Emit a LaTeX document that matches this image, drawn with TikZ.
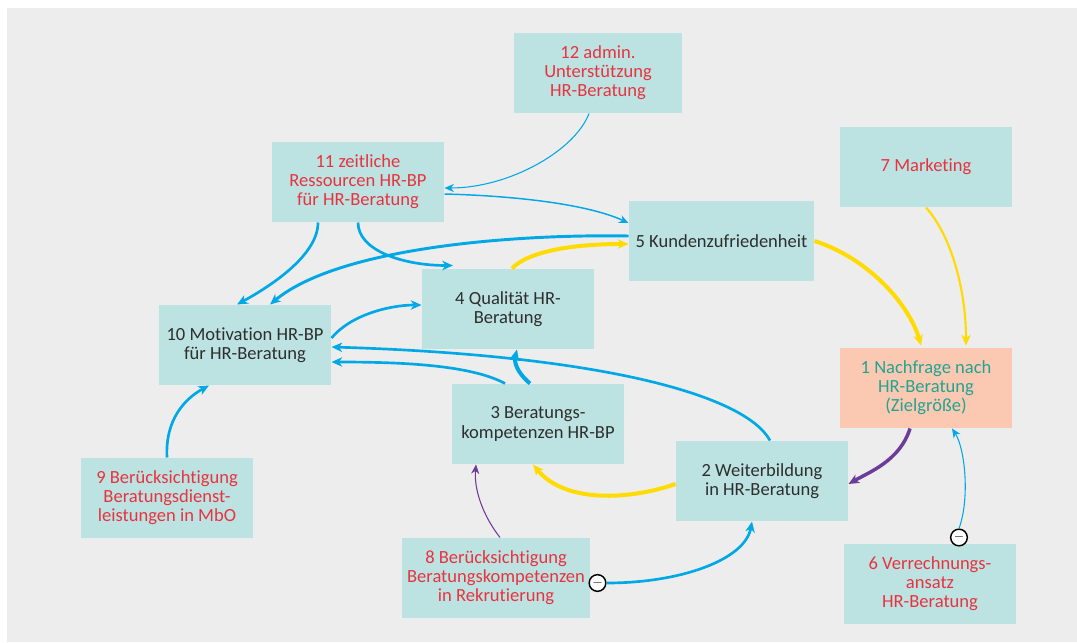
\documentclass[tikz,border=0pt]{standalone}
\usepackage{fontspec}
\setmainfont{Carlito}[Ligatures=NoCommon]
\usepackage{tikz}
\usetikzlibrary{arrows.meta,calc}
\tikzset{every picture/.style={line width=0.75pt}}

\definecolor{bggrey}{HTML}{EDEDED}
\definecolor{boxfill}{HTML}{BCE3E2}
\definecolor{goalfill}{HTML}{FBC9B2}
\definecolor{levred}{HTML}{E8333F}
\definecolor{txtdark}{HTML}{2E2E2E}
\definecolor{goalteal}{HTML}{22A393}
\definecolor{linkblue}{HTML}{00A8E6}
\definecolor{linkyellow}{HTML}{FFDB00}
\definecolor{linkpurple}{HTML}{6B3C98}

\tikzset{
  factor/.style={fill=boxfill, minimum width=129pt, minimum height=60pt, inner sep=0pt,
    align=center, font=\fontsize{13.9}{14.3}\selectfont},
  driver/.style={factor, text=levred},
  effect/.style={factor, text=txtdark},
  goal/.style={factor, fill=goalfill, text=goalteal},
  minus/.style={circle, draw=black, fill=white, line width=1.1pt, minimum size=12.5pt, inner sep=0pt},
  tip/.style={-{Stealth[length=8pt,width=7pt,inset=2.4pt]}},
  thintip/.style={-{Stealth[length=7pt,width=6pt,inset=2.2pt]}},
  blue/.style={draw=linkblue, line width=2pt, tip},
  bluethin/.style={draw=linkblue, line width=0.8pt, thintip},
  yellow/.style={draw=linkyellow, line width=3pt, tip},
  purple/.style={draw=linkpurple, line width=2.6pt, tip},
}

\begin{document}
\begin{tikzpicture}[x=0.75pt,y=0.75pt,yscale=-1,xscale=1]
\useasboundingbox (0,0) rectangle (1077,642);
\fill[bggrey] (7,8) rectangle (1077,642);

% boxes
\node[driver, minimum width=126pt] (n12) at (598,73) {12 admin.\\Unterstützung\\HR-Beratung};
\node[driver] (n11) at (358,182) {11 zeitliche\\Ressourcen HR-BP\\für HR-Beratung};
\node[driver] (n7) at (926,167) {7 Marketing};
\node[effect, minimum width=138.75pt] (n5) at (721.5,241) {5 Kundenzufriedenheit};
\node[effect] (n4) at (508,309) {4 Qualität HR-\\Beratung};
\node[effect] (n10) at (245,345) {10 Motivation HR-BP\\für HR-Beratung};
\node[goal] (n1) at (926,388) {1 Nachfrage nach\\HR-Beratung\\(Zielgröße)};
\node[effect] (n3) at (538,424) {3 Beratungs-\\kompetenzen HR-BP};
\node[effect] (n2) at (762,481) {2 Weiterbildung\\in HR-Beratung};
\node[driver] (n9) at (167,498) {9 Berücksichtigung\\Beratungsdienst-\\leistungen in MbO};
\node[driver, minimum width=141pt] (n8) at (496,578) {8 Berücksichtigung\\Beratungskompetenzen\\in Rekrutierung};
\node[driver] (n6) at (930,584) {6 Verrechnungs-\\ansatz\\HR-Beratung};

% negative links
\node[minus] (m8) at ($(n8.east)+(7,5)$) {$-$};
\node[minus] (m6) at ($(n6.north)+(29,-6)$) {$-$};

% blue links
\draw[bluethin] ($(n12.south)+(-9,0)$) .. controls +(-14,37) and +(65,0) .. ($(n11.east)+(0,6)$);
\draw[bluethin, line width=1.1pt] ($(n11.east)+(0,12)$) .. controls +(76,2) and +(-39,-18) .. ($(n5.west)+(0,-18)$);
\draw[blue] ($(n11.south)+(-40,0)$) .. controls +(0,33) and +(33,-18) .. ($(n10.north)+(-8,0)$);
\draw[blue] (n11.south) .. controls +(0,28) and +(-50,0) .. ($(n4.north)+(-55,-3)$);
\draw[blue, line width=2.2pt] ($(n5.west)+(0,-5)$) .. controls +(-109,-2) and +(70,-58) .. ($(n10.north)+(25,0)$);
\draw[blue] ($(n10.east)+(0,-7)$) .. controls +(19,-23) and +(-32,0) .. ($(n4.west)+(0,-4)$);
\draw[blue] ($(n2.north)+(8,0)$) .. controls +(-25,-46) and +(267,8) .. ($(n10.east)+(0,2)$);
\draw[blue] ($(n3.north)+(-33,0)$) .. controls +(-35,-19) and +(67,0) .. ($(n10.east)+(0,17)$);
\draw[blue, line width=3pt] ($(n3.north)+(-8,0)$) .. controls +(-14,-12) and +(-3,12) .. ($(n4.south)+(9,0)$);
\draw[blue] (n9.north) .. controls +(-2,-38) and +(-24,13) .. ($(n10.south)+(-36,0)$);
\draw[blue] (m8.east) .. controls +(75,0) and +(-7,38) .. ($(n2.south)+(-10,0)$);
\draw[bluethin] (m6.north) .. controls +(11,-30) and +(13,20) .. ($(n1.south)+(26,0)$);

% yellow links
\draw[yellow] ($(n4.north)+(4,0)$) .. controls +(18,-19) and +(-48,0) .. ($(n5.west)+(0,3)$);
\draw[yellow] (n5.east) .. controls +(56,18) and +(-11,-39) .. ($(n1.north)+(-5,-2)$);
\draw[yellow, line width=1.6pt] (n7.south) .. controls +(25,28) and +(0,-56) .. ($(n1.north)+(40,-2)$);
\draw[yellow] ($(n2.west)+(0,3)$) .. controls +(-46,16) and +(32,39) .. ($(n3.south)+(-5,0)$);

% purple links
\draw[purple] ($(n1.south)+(-16,0)$) .. controls +(-10,32) and +(21,-12) .. ($(n2.east)+(0,3)$);
\draw[purple, line width=0.8pt, thintip] ($(n8.north)+(4,0)$) .. controls +(-18,-23) and +(-2,24) .. ($(n3.south)+(-62,0)$);
\end{tikzpicture}
\end{document}
